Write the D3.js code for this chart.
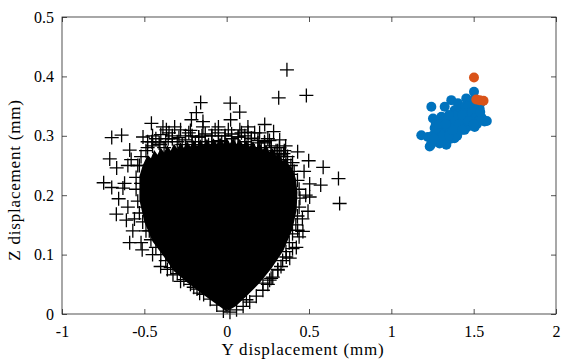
<!DOCTYPE html>
<html><head><meta charset="utf-8">
<script src="https://cdn.jsdelivr.net/npm/d3@7"></script>
<style>body{margin:0;background:#fff}svg{display:block}text{font-family:"Liberation Serif","DejaVu Serif",serif}</style>
</head><body><svg id="c" width="567" height="364"></svg>
<script>
// ---- data ----
const xTickValues = [-1, -0.5, 0, 0.5, 1, 1.5, 2];
const yTickValues = [0, 0.1, 0.2, 0.3, 0.4, 0.5];
const xLabel = "Y displacement (mm)";
const yLabel = "Z displacement (mm)";

// saturated centre of the black "+" cloud (outline of the fully black region, ragged top edge)
const coreOutlineY = [0, -0.07, -0.15, -0.24, -0.32, -0.38, -0.45, -0.50, -0.53, -0.53, -0.51,
  -0.48, -0.46, -0.44, -0.42, -0.40, -0.38, -0.36, -0.34, -0.32, -0.30, -0.28, -0.26, -0.24, -0.22, -0.20, -0.18, -0.16, -0.14, -0.12, -0.10, -0.08, -0.06, -0.04, -0.02, 0.00, 0.02, 0.04, 0.06, 0.08, 0.10, 0.12, 0.14, 0.16, 0.18, 0.20, 0.22, 0.24, 0.26, 0.28, 0.30, 0.32, 0.34, 0.36, 0.38,
  0.40, 0.42, 0.43, 0.425, 0.40, 0.345, 0.275, 0.20, 0.12, 0.055];
const coreOutlineZ = [0.004, 0.018, 0.034, 0.053, 0.072, 0.096, 0.122, 0.155, 0.192, 0.232, 0.25,
  0.268, 0.262, 0.276, 0.268, 0.28, 0.272, 0.284, 0.275, 0.287, 0.278, 0.289, 0.28, 0.291, 0.282, 0.293, 0.283, 0.294, 0.284, 0.295, 0.285, 0.296, 0.286, 0.297, 0.287, 0.297, 0.287, 0.296, 0.286, 0.295, 0.284, 0.293, 0.282, 0.291, 0.28, 0.289, 0.277, 0.285, 0.273, 0.279, 0.266, 0.271, 0.258, 0.262, 0.25,
  0.245, 0.228, 0.205, 0.175, 0.143, 0.107, 0.078, 0.052, 0.03, 0.013];

// individual black "+" markers visible around the cloud
const plusY = [
  // outliers
  0.366, 0.484, 0.316, 0.022, -0.158, 0.079, 0.024, -0.184, -0.214, 0.231, 0.129, 0.285, 0.322, 0.358, 0.431, 0.498, 0.586, 0.679, 0.686, 0.571, 0.504, 0.504, 0.494, 0.463, 0.431, 0.423, 0.383, 0.362, 0.311, 0.261, 0.220, 0.120,
  -0.387, -0.316, -0.457, -0.144, -0.366, -0.144, -0.508, -0.638, -0.698, -0.589, -0.710, -0.668, -0.747, -0.698, -0.630, -0.656, -0.670, -0.609, -0.589, -0.513, -0.401, -0.326, -0.164,
  // edge band
  -0.02, -0.06, -0.10, -0.14, -0.18, -0.22, -0.26, -0.30, -0.34, -0.37, -0.40, -0.43, -0.46, -0.49, -0.51, -0.53, -0.54, -0.55, -0.55, -0.54, -0.52, -0.49, -0.45, -0.41, -0.37, -0.33, -0.29, -0.25, -0.21, -0.17, -0.13, -0.09, -0.05, -0.01, 0.03, 0.07, 0.11, 0.15, 0.19, 0.23, 0.27, 0.30, 0.33, 0.36, 0.39, 0.41, 0.43, 0.44, 0.445, 0.44, 0.43, 0.42, 0.40, 0.38, 0.36, 0.34, 0.31, 0.28, 0.25, 0.22, 0.18, 0.14, 0.10, 0.06, 0.02,
  // ragged outer band
  -0.45, -0.35, -0.28, -0.05, 0.08, 0.20, 0.35, 0.47, 0.48, 0.46, 0.44, 0.40, 0.33, 0.27, -0.60, -0.62, -0.60, -0.57, -0.52, -0.45, -0.36, -0.28, -0.20, -0.40, -0.22, 0.13, 0.26, -0.58, -0.48, 0.39,
  // hatched top band
  -0.48, -0.43, -0.38, -0.33, -0.27, -0.23, -0.19, -0.15, -0.11, -0.07, -0.03, 0.01, 0.05, 0.09, 0.13, 0.17, 0.21, 0.25, 0.29, 0.32, 0.37, 0.40,
  -0.455, -0.405, -0.355, -0.30, -0.25, -0.21, -0.17, -0.13, -0.09, -0.05, -0.01, 0.03, 0.07, 0.11, 0.15, 0.19, 0.23, 0.27, 0.31, 0.345,
  -0.52, -0.50, -0.53, -0.56, -0.47];
const plusZ = [
  0.411, 0.368, 0.364, 0.355, 0.356, 0.340, 0.327, 0.339, 0.327, 0.319, 0.315, 0.307, 0.293, 0.283, 0.273, 0.258, 0.247, 0.228, 0.186, 0.217, 0.219, 0.197, 0.173, 0.139, 0.141, 0.112, 0.094, 0.096, 0.074, 0.057, 0.052, 0.024,
  0.315, 0.315, 0.321, 0.315, 0.310, 0.324, 0.298, 0.301, 0.297, 0.276, 0.261, 0.246, 0.221, 0.213, 0.212, 0.194, 0.168, 0.158, 0.120, 0.108, 0.080, 0.066, 0.035,
  0.005, 0.015, 0.025, 0.033, 0.042, 0.05, 0.058, 0.068, 0.078, 0.09, 0.10, 0.112, 0.125, 0.14, 0.155, 0.17, 0.19, 0.21, 0.23, 0.25, 0.265, 0.275, 0.283, 0.288, 0.29, 0.295, 0.297, 0.293, 0.30, 0.298, 0.303, 0.30, 0.305, 0.30, 0.303, 0.298, 0.30, 0.295, 0.292, 0.288, 0.283, 0.275, 0.268, 0.26, 0.25, 0.24, 0.225, 0.21, 0.195, 0.18, 0.165, 0.15, 0.135, 0.12, 0.105, 0.09, 0.075, 0.062, 0.05, 0.04, 0.03, 0.02, 0.013, 0.007, 0.003,
  0.30, 0.305, 0.31, 0.315, 0.31, 0.305, 0.275, 0.24, 0.20, 0.16, 0.13, 0.11, 0.08, 0.06, 0.25, 0.22, 0.18, 0.14, 0.12, 0.10, 0.075, 0.055, 0.045, 0.302, 0.309, 0.306, 0.292, 0.26, 0.29, 0.235,
  0.28, 0.295, 0.28, 0.30, 0.285, 0.305, 0.285, 0.30, 0.285, 0.31, 0.29, 0.31, 0.285, 0.305, 0.285, 0.305, 0.28, 0.295, 0.27, 0.28, 0.265, 0.255,
  0.29, 0.285, 0.295, 0.29, 0.30, 0.29, 0.298, 0.29, 0.30, 0.292, 0.30, 0.295, 0.298, 0.29, 0.296, 0.288, 0.29, 0.28, 0.275, 0.27,
  0.22, 0.18, 0.25, 0.16, 0.14];

// blue filled dots
const blueY = [1.243, 1.182, 1.233, 1.293, 1.334, 1.253, 1.304, 1.324, 1.364, 1.404, 1.455, 1.502, 1.516, 1.536, 1.566, 1.506, 1.445, 1.384, 1.344, 1.263, 1.222, 1.283, 1.404, 1.445, 1.486, 1.384, 1.344, 1.263, 1.324, 1.465, 1.546, 1.425,
  1.25, 1.28, 1.30, 1.33, 1.36, 1.38, 1.40, 1.42, 1.44, 1.46, 1.48, 1.50, 1.50, 1.48, 1.42, 1.52, 1.55, 1.58, 1.36, 1.30, 1.24, 1.27, 1.38, 1.46, 1.52, 1.40,
  1.27, 1.29, 1.31, 1.35, 1.37, 1.39, 1.41, 1.43, 1.45, 1.47, 1.49, 1.51, 1.53, 1.43, 1.47, 1.26, 1.33, 1.35, 1.50, 1.54];
const blueZ = [0.349, 0.301, 0.282, 0.287, 0.285, 0.329, 0.332, 0.349, 0.360, 0.355, 0.363, 0.374, 0.349, 0.346, 0.324, 0.315, 0.310, 0.296, 0.315, 0.313, 0.298, 0.301, 0.329, 0.338, 0.343, 0.343, 0.329, 0.293, 0.296, 0.327, 0.357, 0.318,
  0.30, 0.29, 0.31, 0.305, 0.31, 0.32, 0.31, 0.33, 0.325, 0.34, 0.33, 0.345, 0.36, 0.355, 0.345, 0.335, 0.33, 0.325, 0.295, 0.29, 0.285, 0.32, 0.335, 0.315, 0.32, 0.30,
  0.31, 0.32, 0.30, 0.30, 0.31, 0.325, 0.32, 0.335, 0.35, 0.35, 0.34, 0.33, 0.325, 0.31, 0.325, 0.295, 0.32, 0.335, 0.32, 0.34];

// orange filled dots
const orangeY = [1.502, 1.536, 1.560, 1.516];
const orangeZ = [0.398, 0.360, 0.359, 0.361];

// ---- drawing ----
const svg = d3.select("#c");
const axisColor = "#262626";
const x = d3.scaleLinear().domain([-1, 2]).range([62, 556]);
const y = d3.scaleLinear().domain([0, 0.5]).range([314, 17]);

const plot = svg.append("g");

// dense core
const core = coreOutlineY.map((v, i) => [v, coreOutlineZ[i]]);
plot.append("path")
  .datum(core)
  .attr("d", d3.line().x(d => x(d[0])).y(d => y(d[1])).curve(d3.curveLinearClosed))
  .attr("fill", "#000");

// plus markers
const plus = plusY.map((v, i) => [v, plusZ[i]]);
plot.selectAll("path.plus").data(plus).join("path")
  .attr("class", "plus")
  .attr("transform", d => `translate(${x(d[0])},${y(d[1])})`)
  .attr("d", "M-7,0H7M0,-7V7")
  .attr("stroke", "#000").attr("stroke-width", 1.3).attr("fill", "none");

// blue dots
plot.selectAll("circle.b").data(blueY.map((v, i) => [v, blueZ[i]])).join("circle")
  .attr("class", "b")
  .attr("cx", d => x(d[0])).attr("cy", d => y(d[1])).attr("r", 5)
  .attr("fill", "#0072BD");

// orange dots
plot.selectAll("circle.o").data(orangeY.map((v, i) => [v, orangeZ[i]])).join("circle")
  .attr("class", "o")
  .attr("cx", d => x(d[0])).attr("cy", d => y(d[1])).attr("r", 5)
  .attr("fill", "#D95319");

// axes
function styleAxis(g) {
  g.select(".domain").remove();
  g.selectAll(".tick line").attr("stroke", axisColor).attr("stroke-width", 0.8);
  g.selectAll(".tick text").attr("fill", "#000").style("font-size", "16px");
}
svg.append("g").attr("transform", "translate(0,314)")
  .call(d3.axisBottom(x).tickValues(xTickValues).tickSizeInner(-5).tickSizeOuter(0).tickPadding(0).tickFormat(d => String(d)))
  .call(styleAxis)
  .call(g => g.selectAll(".tick text").attr("y", 23).attr("dy", null));
svg.append("g").attr("transform", "translate(0,17)")
  .call(d3.axisTop(x).tickValues(xTickValues).tickSizeInner(-5).tickSizeOuter(0).tickFormat(""))
  .call(styleAxis);
svg.append("g").attr("transform", "translate(62,0)")
  .call(d3.axisLeft(y).tickValues(yTickValues).tickSizeInner(-5).tickSizeOuter(0).tickPadding(0).tickFormat(d => String(d)))
  .call(styleAxis)
  .call(g => g.selectAll(".tick text").attr("x", -8).attr("dy", "0.32em"));
svg.append("g").attr("transform", "translate(556,0)")
  .call(d3.axisRight(y).tickValues(yTickValues).tickSizeInner(-5).tickSizeOuter(0).tickFormat(""))
  .call(styleAxis);

svg.append("rect").attr("x", x(-1)).attr("y", y(0.5))
  .attr("width", x(2) - x(-1)).attr("height", y(0) - y(0.5))
  .attr("fill", "none").attr("stroke", axisColor).attr("stroke-width", 0.8);

// axis labels
svg.append("text").attr("x", 303).attr("y", 355).attr("text-anchor", "middle")
  .style("font-size", "17px").style("letter-spacing", "0.8px")
  .attr("fill", "#000").text(xLabel);
svg.append("text").attr("transform", "translate(20,180) rotate(-90)").attr("text-anchor", "middle")
  .style("font-size", "17px").style("letter-spacing", "0.8px")
  .attr("fill", "#000").text(yLabel);
</script></body></html>
